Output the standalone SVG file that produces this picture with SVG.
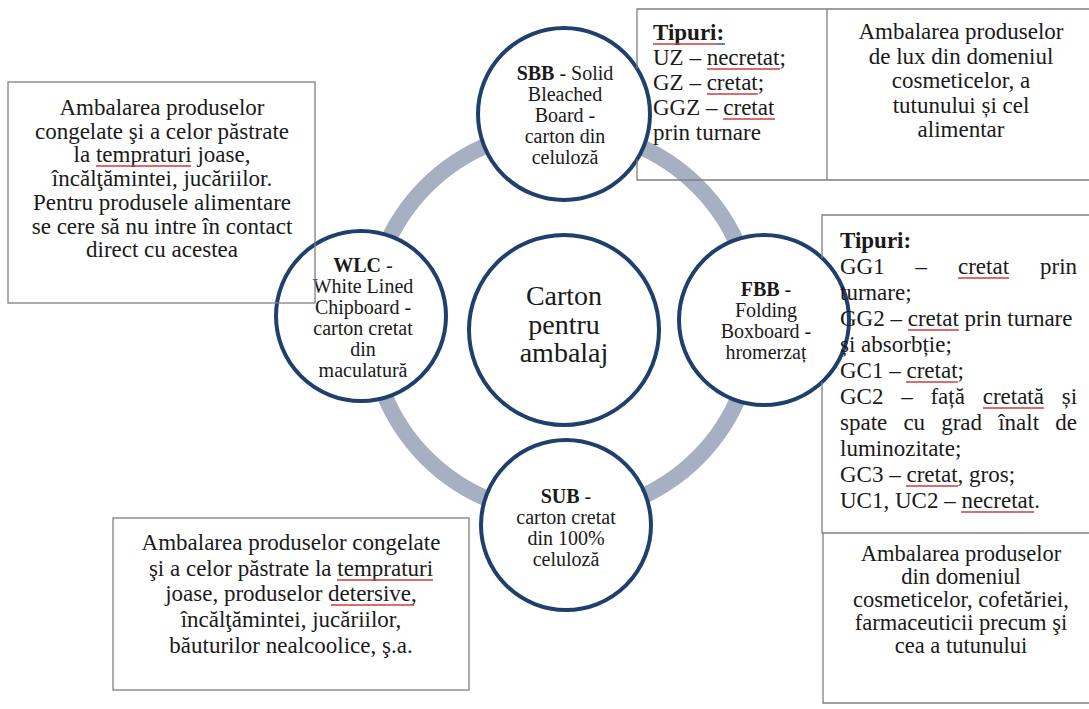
<svg xmlns="http://www.w3.org/2000/svg" width="1089" height="709" viewBox="0 0 1089 709">
<style>
.t{font-family:"Liberation Serif","Times New Roman",serif;fill:#1a1a1a}
.c{font-size:20px;text-anchor:middle}
.b{font-size:23px}
.m{text-anchor:middle}
.bold{font-weight:bold}
.box{fill:none;stroke:#808080;stroke-width:1.3}
.node{fill:#fff;stroke:#1f3f6c;stroke-width:4}
.ring{fill:none;stroke:#a7afc3;stroke-width:16}
.sq{stroke:#d23b3b;stroke-width:1.6;fill:none}
.sqb{stroke:#3b5fd2;stroke-width:1.6;fill:none}
</style>
<rect width="1089" height="709" fill="#fff"/>
<g id="connectors">
<circle class="ring" cx="562" cy="322" r="192"/>
</g>
<g id="node-sbb">
<circle class="node" cx="564" cy="114" r="86"/>
<text class="t c"><tspan x="565" y="80"><tspan class="bold">SBB</tspan> - Solid</tspan><tspan x="565" y="101">Bleached</tspan><tspan x="565" y="122">Board -</tspan><tspan x="565" y="143">carton din</tspan><tspan x="565" y="164">celuloză</tspan></text>
</g>
<g id="node-wlc">
<circle class="node" cx="361" cy="316" r="85"/>
<text class="t c"><tspan x="363" y="272"><tspan class="bold">WLC</tspan> -</tspan><tspan x="363" y="293">White Lined</tspan><tspan x="363" y="314">Chipboard -</tspan><tspan x="363" y="335">carton cretat</tspan><tspan x="363" y="356">din</tspan><tspan x="363" y="377">maculatură</tspan></text>
</g>
<g id="node-fbb">
<circle class="node" cx="764" cy="320" r="85"/>
<text class="t c"><tspan x="766" y="296"><tspan class="bold">FBB</tspan> -</tspan><tspan x="766" y="317">Folding</tspan><tspan x="766" y="338">Boxboard -</tspan><tspan x="766" y="359">hromerzaț</tspan></text>
</g>
<g id="node-sub">
<circle class="node" cx="566" cy="525" r="85"/>
<text class="t c"><tspan x="566" y="503"><tspan class="bold">SUB</tspan> -</tspan><tspan x="566" y="524">carton cretat</tspan><tspan x="566" y="545">din 100%</tspan><tspan x="566" y="566">celuloză</tspan></text>
</g>
<g id="node-center">
<circle class="node" cx="564" cy="330" r="95"/>
<text class="t m" font-size="28"><tspan x="564" y="305">Carton</tspan><tspan x="564" y="334">pentru</tspan><tspan x="564" y="362">ambalaj</tspan></text>
</g>
<g id="box-sbb">
<path class="box" d="M637 68.5V9H1097M637 159.5V180H1097"/>
<line class="box" x1="827" y1="9" x2="827" y2="180"/>
<text class="t b" x="653" y="40"><tspan class="bold">Tipuri:</tspan></text>
<text class="t b" x="653" y="65">UZ – necretat;</text>
<text class="t b" x="653" y="90">GZ – cretat;</text>
<text class="t b" x="653" y="115">GGZ – cretat</text>
<text class="t b" x="653" y="140">prin turnare</text>
<line class="sq" x1="653" y1="44" x2="717" y2="44"/>
<line class="sqb" x1="717" y1="44" x2="725" y2="44"/>
<line class="sq" x1="707" y1="69" x2="780" y2="69"/>
<line class="sq" x1="707" y1="94" x2="758" y2="94"/>
<line class="sq" x1="723" y1="119" x2="775" y2="119"/>
<text class="t b m"><tspan x="961" y="39">Ambalarea produselor</tspan><tspan x="961" y="63.5">de lux din domeniul</tspan><tspan x="961" y="88">cosmeticelor, a</tspan><tspan x="961" y="112.5">tutunului și cel</tspan><tspan x="961" y="137">alimentar</tspan></text>
</g>
<g id="box-wlc">
<rect class="box" x="8" y="82" width="307" height="221"/>
<text class="t b m"><tspan x="162" y="115">Ambalarea produselor</tspan><tspan x="162" y="139">congelate şi a celor păstrate</tspan><tspan x="162" y="162">la tempraturi joase,</tspan><tspan x="162" y="186">încălţămintei, jucăriilor.</tspan><tspan x="162" y="210">Pentru produsele alimentare</tspan><tspan x="162" y="234">se cere să nu intre în contact</tspan><tspan x="162" y="257">direct cu acestea</tspan></text>
<line class="sq" x1="96" y1="166" x2="191" y2="166"/>
</g>
<g id="box-fbb">
<path class="box" d="M822 258V215H1097M822 382V533H1097"/>
<text class="t b" x="840" y="248"><tspan class="bold">Tipuri:</tspan></text>
<text class="t b" y="274"><tspan x="840">GG1</tspan><tspan x="915.6">–</tspan><tspan x="958">cretat</tspan><tspan x="1040">prin</tspan></text>
<text class="t b" x="840" y="300">turnare;</text>
<text class="t b" x="840" y="326">GG2 – cretat prin turnare</text>
<text class="t b" x="840" y="352">și absorbție;</text>
<text class="t b" x="840" y="378">GC1 – cretat;</text>
<text class="t b" y="404"><tspan x="840">GC2</tspan><tspan x="901.2">–</tspan><tspan x="930.4">față</tspan><tspan x="982.7">cretată</tspan><tspan x="1061.7">și</tspan></text>
<text class="t b" y="430"><tspan x="840">spate</tspan><tspan x="903.4">cu</tspan><tspan x="941.2">grad</tspan><tspan x="998.2">înalt</tspan><tspan x="1055.3">de</tspan></text>
<text class="t b" x="840" y="456">luminozitate;</text>
<text class="t b" x="840" y="482">GC3 – cretat, gros;</text>
<text class="t b" x="840" y="508">UC1, UC2 – necretat.</text>
<line class="sq" x1="958" y1="278" x2="1009" y2="278"/>
<line class="sq" x1="908" y1="330" x2="959" y2="330"/>
<line class="sq" x1="906" y1="382" x2="958" y2="382"/>
<line class="sq" x1="983" y1="408" x2="1044" y2="408"/>
<line class="sq" x1="906" y1="486" x2="958" y2="486"/>
<line class="sq" x1="961" y1="512" x2="1034" y2="512"/>
</g>
<g id="box-fbb-use">
<path class="box" d="M823 533V703H1097"/>
<text class="t m" font-size="22.5"><tspan x="961" y="561">Ambalarea produselor</tspan><tspan x="961" y="584">din domeniul</tspan><tspan x="961" y="607">cosmeticelor, cofetăriei,</tspan><tspan x="961" y="630">farmaceuticii precum şi</tspan><tspan x="961" y="653">cea a tutunului</tspan></text>
</g>
<g id="box-sub">
<rect class="box" x="113" y="518" width="356" height="172"/>
<text class="t b m"><tspan x="291" y="550">Ambalarea produselor congelate</tspan><tspan x="291" y="576">şi a celor păstrate la tempraturi</tspan><tspan x="291" y="601">joase, produselor detersive,</tspan><tspan x="291" y="627">încălţămintei, jucăriilor,</tspan><tspan x="291" y="653">băuturilor nealcoolice, ş.a.</tspan></text>
<line class="sq" x1="337" y1="580" x2="433" y2="580"/>
<line class="sq" x1="331" y1="605" x2="414" y2="605"/>
</g>
</svg>
